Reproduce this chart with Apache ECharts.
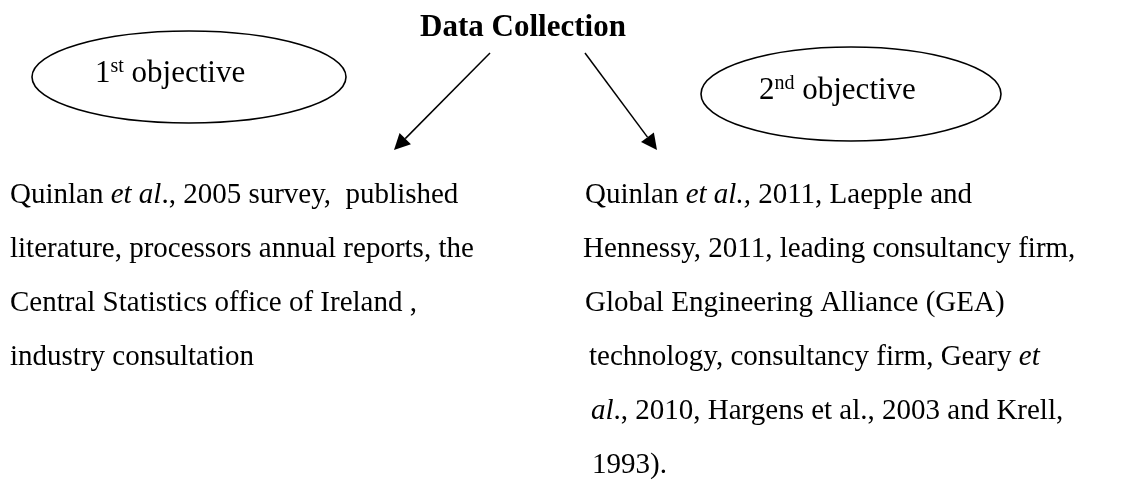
<!DOCTYPE html>
<html>
<head>
<meta charset="utf-8">
<script src="https://cdn.jsdelivr.net/npm/echarts@6/dist/echarts.min.js"></script>
<style>
  html, body { margin: 0; background: #fff; }
  #chart { width: 1144px; height: 483px; }
</style>
</head>
<body>
<div id="chart"></div>
<script>
// diagram texts
const title = 'Data Collection'
const objectives = [
  { num: '1', sup: 'st', word: ' objective' },
  { num: '2', sup: 'nd', word: ' objective' }
]
const leftLines = [
  '{n|Quinlan }{i|et al}{n|., 2005 survey,  published}',
  '{n|literature, processors annual reports, the}',
  '{n|Central Statistics office of Ireland ,}',
  '{n|industry consultation}'
]
const rightLines = [
  '{n|Quinlan }{i|et al.,}{n| 2011, Laepple and}',
  '{n|Hennessy, 2011, leading consultancy firm,}',
  '{n|Global Engineering Alliance (GEA)}',
  '{n|technology, consultancy firm, Geary }{i|et}',
  '{i|al}{n|., 2010, Hargens et al., 2003 and Krell,}',
  '{n|1993).}'
]

// layout
const FONT = '"Liberation Serif", "Times New Roman", serif'
const FS = 29
const lineTop = 195
const lineGap = 54
const rightIndent = [2, 0, 2, 6, 8, 9]
const ellipses = [
  { cx: 189, cy: 77, rx: 157, ry: 46, tx: 95, ty: 74 },
  { cx: 851, cy: 94, rx: 150, ry: 47, tx: 759, ty: 91 }
]
const arrows = [
  [[490, 53], [394, 150]],
  [[585, 53], [657, 150]]
]

const rich = {
  n: { fontFamily: FONT, fontSize: FS, fill: '#000' },
  i: { fontFamily: FONT, fontSize: FS, fontStyle: 'italic', fill: '#000' },
  o: { fontFamily: FONT, fontSize: 31, fill: '#000' },
  s: { fontFamily: FONT, fontSize: 20, fill: '#000', padding: [0, 0, 15, 0] }
}

function arrowHead (from, to, len, half) {
  const dx = to[0] - from[0]
  const dy = to[1] - from[1]
  const d = Math.sqrt(dx * dx + dy * dy)
  const ux = dx / d
  const uy = dy / d
  const bx = to[0] - ux * len
  const by = to[1] - uy * len
  return [to, [bx - uy * half, by + ux * half], [bx + uy * half, by - ux * half]]
}

const elements = []

elements.push({
  type: 'text',
  x: 523,
  y: 28,
  style: {
    text: title,
    font: 'bold 31px ' + FONT,
    fill: '#000',
    align: 'center',
    verticalAlign: 'middle'
  }
})

ellipses.forEach(function (e, k) {
  elements.push({
    type: 'ellipse',
    shape: { cx: e.cx, cy: e.cy, rx: e.rx, ry: e.ry },
    style: { fill: 'none', stroke: '#000', lineWidth: 1.6 }
  })
  const o = objectives[k]
  elements.push({
    type: 'text',
    x: e.tx,
    y: e.ty,
    style: {
      text: '{o|' + o.num + '}{s|' + o.sup + '}{o|' + o.word + '}',
      rich: rich,
      align: 'left',
      verticalAlign: 'middle'
    }
  })
})

arrows.forEach(function (a) {
  const head = arrowHead(a[0], a[1], 16, 8)
  const bx = (head[1][0] + head[2][0]) / 2
  const by = (head[1][1] + head[2][1]) / 2
  elements.push({
    type: 'line',
    shape: { x1: a[0][0], y1: a[0][1], x2: bx, y2: by },
    style: { stroke: '#000', lineWidth: 1.5 }
  })
  elements.push({
    type: 'polygon',
    shape: { points: head },
    style: { fill: '#000' }
  })
})

leftLines.forEach(function (t, k) {
  elements.push({
    type: 'text',
    x: 10,
    y: lineTop + k * lineGap,
    style: { text: t, rich: rich, align: 'left', verticalAlign: 'middle' }
  })
})

rightLines.forEach(function (t, k) {
  elements.push({
    type: 'text',
    x: 583 + rightIndent[k],
    y: lineTop + k * lineGap,
    style: { text: t, rich: rich, align: 'left', verticalAlign: 'middle' }
  })
})

const myChart = echarts.init(document.getElementById('chart'), null, { renderer: 'canvas' })
myChart.setOption({
  backgroundColor: '#fff',
  animation: false,
  graphic: { elements: elements }
})
</script>
</body>
</html>
